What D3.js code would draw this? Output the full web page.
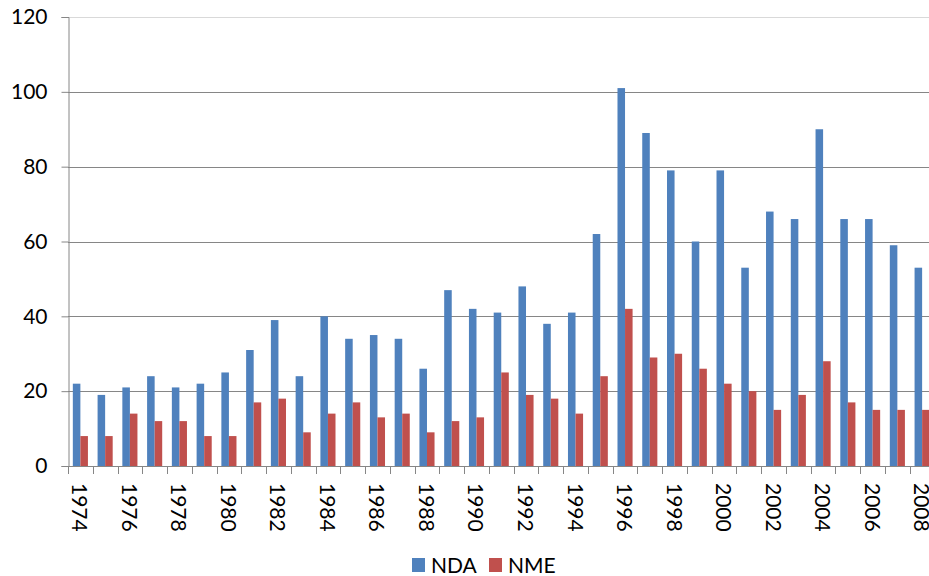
<!DOCTYPE html>
<html>
<head>
<meta charset="utf-8">
<script src="https://cdnjs.cloudflare.com/ajax/libs/d3/7.8.5/d3.min.js"></script>
<style>
  html, body { margin: 0; padding: 0; background: #fff; }
  svg { display: block; }
  text { font-family: Lato, "Open Sans", sans-serif; fill: #000; }
</style>
</head>
<body>
<svg id="chart" width="929" height="576"></svg>
<script>
const years = [1974,1975,1976,1977,1978,1979,1980,1981,1982,1983,1984,1985,1986,1987,1988,1989,1990,1991,1992,1993,1994,1995,1996,1997,1998,1999,2000,2001,2002,2003,2004,2005,2006,2007,2008];
const nda = [22,19,21,24,21,22,25,31,39,24,40,34,35,34,26,47,42,41,48,38,41,62,101,89,79,60,79,53,68,66,90,66,66,59,53];
const nme = [8,8,14,12,12,8,8,17,18,9,14,17,13,14,9,12,13,25,19,18,14,24,42,29,30,26,22,20,15,19,28,17,15,15,15];
const seriesNames = ["NDA", "NME"];
const seriesColors = ["#4F81BD", "#C0504D"];
const yTicks = [0,20,40,60,80,100,120];
const xLabelYears = years.filter((d, i) => i % 2 === 0);

const svg = d3.select("#chart");
const mLeft = 68, mRight = 934.5, mTop = 17, mBottom = 466;

const x = d3.scaleBand().domain(years).range([mLeft, mRight]).paddingInner(0.39).paddingOuter(0.195);
const xs = d3.scaleBand().domain(seriesNames).range([0, x.bandwidth()]);
const y = d3.scaleLinear().domain([0, 120]).range([mBottom, mTop]);

// gridlines
svg.append("g").selectAll("line").data(yTicks.filter(d => d > 0)).join("line")
  .attr("x1", mLeft).attr("x2", 929)
  .attr("y1", d => Math.round(y(d)) + 0.5).attr("y2", d => Math.round(y(d)) + 0.5)
  .attr("stroke", d => d === 120 ? "#d9d9d9" : "#868686").attr("stroke-width", 1);

// y axis
const yAxis = d3.axisLeft(y).tickValues(yTicks).tickSize(7).tickPadding(14);
const gy = svg.append("g").attr("transform", `translate(${mLeft + 0.5},0)`).call(yAxis);
gy.select(".domain").attr("stroke", "#868686");
gy.selectAll(".tick line").attr("stroke", "#868686");
gy.selectAll(".tick text").attr("font-size", 21).attr("font-family", "Lato").attr("fill", "#222");

// bars
const data = [nda, nme];
data.forEach((vals, si) => {
  svg.append("g").selectAll("rect").data(vals).join("rect")
    .attr("x", (d, i) => x(years[i]) + xs(seriesNames[si]))
    .attr("width", xs.bandwidth())
    .attr("y", d => y(d))
    .attr("height", d => y(0) - y(d))
    .attr("fill", seriesColors[si]);
});

// x axis line
svg.append("line").attr("x1", mLeft).attr("x2", 929)
  .attr("y1", mBottom + 0.5).attr("y2", mBottom + 0.5).attr("stroke", "#868686");

// x ticks at category boundaries
const step = x.step();
svg.append("g").selectAll("line").data(d3.range(years.length + 1)).join("line")
  .attr("x1", i => Math.round(mLeft + i * step) + 0.5)
  .attr("x2", i => Math.round(mLeft + i * step) + 0.5)
  .attr("y1", mBottom).attr("y2", mBottom + 8)
  .attr("stroke", "#868686");

// x labels rotated
svg.append("g").selectAll("text").data(xLabelYears).join("text")
  .attr("transform", d => `translate(${x(d) + x.bandwidth() / 2 - 8},${mBottom + 17}) rotate(90)`)
  .attr("font-size", 21).attr("fill", "#222")
  .text(d => d);

// legend
const legend = svg.append("g");
const legendItems = [{name: "NDA", x: 412}, {name: "NME", x: 489}];
legendItems.forEach((it, i) => {
  legend.append("rect").attr("x", it.x).attr("y", 558).attr("width", 13).attr("height", 14)
    .attr("fill", seriesColors[i]);
  legend.append("text").attr("x", it.x + 19).attr("y", 572.5)
    .attr("font-size", 21).attr("fill", "#222").text(seriesNames[i]);
});
</script>
</body>
</html>
